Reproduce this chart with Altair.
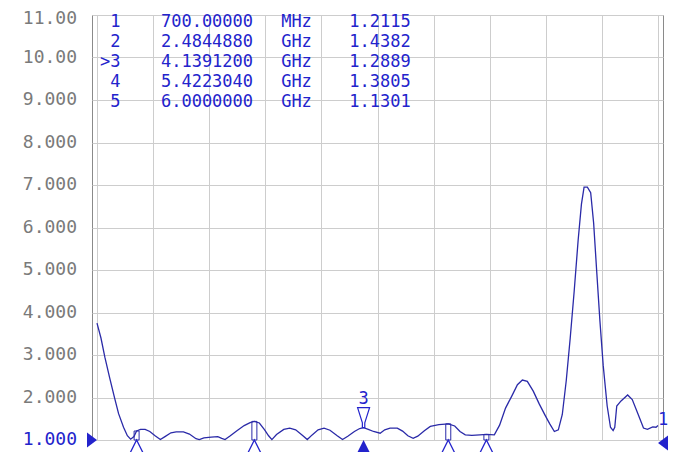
import altair as alt
import pandas as pd

# ---------------- data ----------------
freq_ghz = [0.100, 0.160, 0.219, 0.294, 0.368, 0.427, 0.502, 0.560, 0.610, 0.660,
            0.700, 0.760, 0.830, 0.900, 0.980, 1.060, 1.130, 1.220, 1.300, 1.410,
            1.500, 1.600, 1.650, 1.720, 1.830, 1.930, 1.990, 2.040, 2.120, 2.220,
            2.330, 2.420, 2.484, 2.560, 2.640, 2.700, 2.750, 2.820, 2.930, 3.020,
            3.110, 3.220, 3.286, 3.360, 3.450, 3.540, 3.630, 3.740, 3.820, 3.900,
            4.000, 4.080, 4.139, 4.210, 4.290, 4.390, 4.460, 4.540, 4.650, 4.730,
            4.810, 4.890, 4.960, 5.060, 5.150, 5.280, 5.422, 5.520, 5.600, 5.680,
            5.780, 5.900, 6.000, 6.120, 6.200, 6.290, 6.390, 6.470, 6.545, 6.620,
            6.710, 6.800, 6.890, 6.960, 7.030, 7.090, 7.150, 7.210, 7.270, 7.330,
            7.390, 7.440, 7.480, 7.530, 7.580, 7.625, 7.670, 7.720, 7.770, 7.830,
            7.880, 7.920, 7.945, 7.975, 8.040, 8.140, 8.210, 8.300, 8.380, 8.440,
            8.520, 8.570, 8.600]
vswr = [3.75, 3.40, 2.95, 2.45, 1.98, 1.62, 1.30, 1.10, 1.02, 1.08,
        1.2115, 1.25, 1.25, 1.20, 1.10, 1.01, 1.08, 1.17, 1.19, 1.19,
        1.14, 1.03, 1.01, 1.05, 1.07, 1.08, 1.04, 1.01, 1.10, 1.22,
        1.34, 1.41, 1.4382, 1.40, 1.24, 1.10, 1.01, 1.13, 1.25, 1.28,
        1.24, 1.10, 1.01, 1.12, 1.24, 1.28, 1.23, 1.10, 1.01, 1.09,
        1.20, 1.27, 1.2889, 1.25, 1.20, 1.16, 1.24, 1.28, 1.28, 1.21,
        1.10, 1.04, 1.09, 1.22, 1.32, 1.36, 1.3805, 1.33, 1.20, 1.12,
        1.11, 1.12, 1.1301, 1.12, 1.35, 1.75, 2.05, 2.30, 2.41, 2.38,
        2.15, 1.85, 1.58, 1.38, 1.20, 1.24, 1.60, 2.40, 3.40, 4.50,
        5.70, 6.55, 6.95, 6.95, 6.82, 6.10, 5.00, 3.80, 2.75, 1.80,
        1.30, 1.22, 1.30, 1.80, 1.92, 2.06, 1.95, 1.60, 1.28, 1.25,
        1.31, 1.30, 1.34]

marker_label = ["1", "2", ">3", "4", "5"]
marker_freq = [0.7, 2.484488, 4.13912, 5.422304, 6.0]
marker_vswr = [1.2115, 1.4382, 1.2889, 1.3805, 1.1301]
marker_freq_text = ["700.00000", "2.4844880", "4.1391200", "5.4223040", "6.0000000"]
marker_unit = ["MHz", "GHz", "GHz", "GHz", "GHz"]
marker_val_text = ["1.2115", "1.4382", "1.2889", "1.3805", "1.1301"]
marker_active = [False, False, True, False, False]

y_ticks = [1, 2, 3, 4, 5, 6, 7, 8, 9, 10, 11]
y_tick_labels = ["1.000", "2.000", "3.000", "4.000", "5.000", "6.000",
                 "7.000", "8.000", "9.000", "10.00", "11.00"]
x_grid = [0.1, 0.95, 1.8, 2.65, 3.5, 4.35, 5.2, 6.05, 6.9, 7.75, 8.6]
x_start, x_stop = 0.1, 8.6
y_min, y_max = 1, 11

# ---------------- styling ----------------
TRACE = "#2a2aa8"
BLUE = "#2323cc"
GRAY = "#7a7a7a"
W, H = 571, 425
MONO = "DejaVu Sans Mono"

XS = alt.Scale(domain=[x_start, x_stop], nice=False, zero=False)
YS = alt.Scale(domain=[y_min, y_max], nice=False, zero=False)
XA = alt.Axis(values=x_grid, labels=False, ticks=False, domain=False, grid=True, title=None)
YA = alt.Axis(values=y_ticks, labels=False, ticks=False, domain=False, grid=True, title=None)

X = alt.X("f:Q", scale=XS, axis=XA)
Y = alt.Y("v:Q", scale=YS, axis=YA)

trace_df = pd.DataFrame({"f": freq_ghz, "v": vswr})
mk = pd.DataFrame({"f": marker_freq, "v": marker_vswr, "active": marker_active,
                   "label": [s.replace(">", "") for s in marker_label]})
mk["base"] = y_min
inactive = mk[~mk["active"]]
active = mk[mk["active"]]

trace = alt.Chart(trace_df).mark_line(color=TRACE, strokeWidth=1.3).encode(x=X, y=Y)

towers = alt.Chart(inactive).mark_bar(filled=False, stroke=TRACE, strokeWidth=1, size=5).encode(
    x=X, y=Y, y2="base:Q")

bottom_df = mk.assign(v=y_min)
bottom_open = alt.Chart(bottom_df[~bottom_df["active"]]).mark_point(
    shape="M 0 0 L 1 2 L -1 2 Z", size=196, filled=False, stroke=BLUE, strokeWidth=1.3, opacity=1
).encode(x=X, y=Y)
bottom_fill = alt.Chart(bottom_df[bottom_df["active"]]).mark_point(
    shape="M 0 0 L 1 2 L -1 2 Z", size=196, filled=True, color=BLUE, opacity=1
).encode(x=X, y=Y)

act_sym = alt.Chart(active).mark_point(
    shape="M -1.5 -5 L 1.5 -5 L 0.3 -1.2 L 0.3 0 L -0.3 0 L -0.3 -1.2 Z",
    size=64, filled=False, stroke=BLUE, strokeWidth=1.2, opacity=1
).encode(x=X, y=Y)
act_lbl = alt.Chart(active).mark_text(font=MONO, fontSize=17, color=BLUE, dy=-29,
                                      baseline="middle", align="center").encode(
    x=X, y=Y, text="label:N")

ref_df = pd.DataFrame({"f": [x_start], "v": [y_min]})
left_tri = alt.Chart(ref_df).mark_point(shape="M -2 -1.5 L 0 0 L -2 1.5 Z", size=100,
                                         filled=True, color=BLUE, opacity=1).encode(x=X, y=Y)
ref_r_df = pd.DataFrame({"f": [x_stop], "v": [y_min], "t": ["1"]})
right_tri = alt.Chart(ref_r_df).mark_point(shape="M 0 0.6 L 2 -0.9 L 2 2.1 Z", size=100,
                                            filled=True, color=BLUE, opacity=1).encode(x=X, y=Y)
right_lbl = alt.Chart(ref_r_df).mark_text(font=MONO, fontSize=17, color=BLUE, dy=-20,
                                          align="left", baseline="middle").encode(
    x=X, y=Y, text="t:N")

# y-axis labels (drawn as text so the top one can stay inside the page)
lab_df = pd.DataFrame({"v": y_ticks, "t": y_tick_labels})
TYL = alt.Y("v:Q", scale=YS, axis=YA)
ylab_mid = alt.Chart(lab_df[(lab_df["v"] > y_min) & (lab_df["v"] < y_max)]).mark_text(
    font=MONO, fontSize=18, color=GRAY, align="right", baseline="middle").encode(
    x=alt.value(-15), y=TYL, text="t:N")
ylab_top = alt.Chart(lab_df[lab_df["v"] == y_max]).mark_text(
    font=MONO, fontSize=18, color=GRAY, align="right", baseline="middle", dy=4).encode(
    x=alt.value(-15), y=TYL, text="t:N")
ylab_ref = alt.Chart(lab_df[lab_df["v"] == y_min]).mark_text(
    font=MONO, fontSize=18, color=BLUE, align="right", baseline="middle").encode(
    x=alt.value(-15), y=TYL, text="t:N")

# marker table
rows = list(range(len(marker_label)))
tbl = pd.DataFrame({"num": marker_label, "freq": marker_freq_text, "unit": marker_unit,
                    "val": marker_val_text, "row": rows})
tbl["v"] = [y_max - (7.0 + 20.0 * r) / (H / (y_max - y_min)) for r in rows]
TY = alt.Y("v:Q", scale=YS, axis=YA)


def col(field, px, align):
    return alt.Chart(tbl).mark_text(font=MONO, fontSize=17, color=BLUE, align=align,
                                    baseline="middle").encode(
        x=alt.value(px), y=TY, text=f"{field}:N")


table = col("num", 28.5, "right") + col("freq", 115, "center") + \
    col("unit", 204.5, "center") + col("val", 288, "center")

chart = alt.layer(trace, towers, bottom_open, bottom_fill, act_sym, act_lbl,
                  left_tri, right_tri, right_lbl, ylab_mid, ylab_top, ylab_ref, table).properties(
    width=W, height=H, autosize="none",
    padding={"left": 84, "top": 7, "right": 12, "bottom": 14},
    background="white",
).configure_view(stroke="#8a8a8a", strokeWidth=1).configure_axis(
    gridColor="#cdcdcd", gridWidth=1)

chart.save("out.html", embed_options={"renderer": "svg", "actions": False})
